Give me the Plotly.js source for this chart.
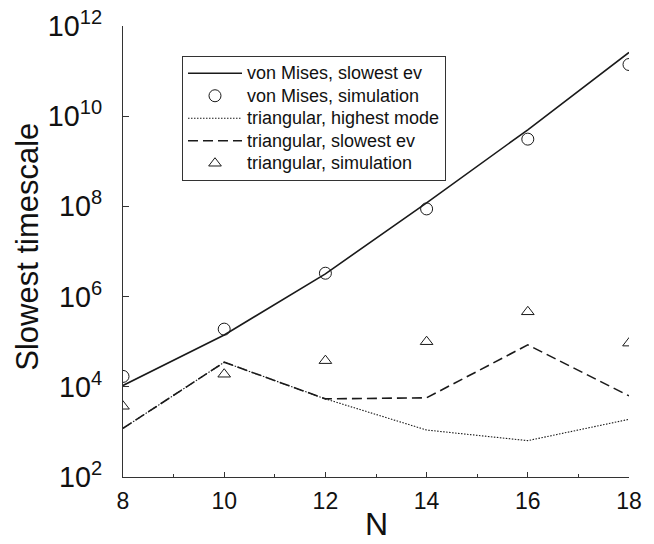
<!DOCTYPE html>
<html>
<head>
<meta charset="utf-8">
<script src="https://cdn.plot.ly/plotly-3.0.1.min.js"></script>
<style>html,body{margin:0;padding:0;background:#fff;}#chart{width:654px;height:544px;}</style>
</head>
<body>
<div id="chart"></div>
<script>
// Data
var N = [8, 10, 12, 14, 16, 18];
var vonMisesSlowestEv = [1.07e4, 1.41e5, 3.2e6, 1.2e8, 5.0e9, 2.6e11];
var vonMisesSimulation = [1.7e4, 1.9e5, 3.3e6, 8.8e7, 3.1e9, 1.4e11];
var triangularHighestMode = [1.2e3, 3.5e4, 5.4e3, 1.1e3, 6.4e2, 1.9e3];
var triangularSlowestEv = [1.2e3, 3.5e4, 5.4e3, 5.7e3, 8.5e4, 6.3e3];
var triangularSimulation = [3.7e3, 1.9e4, 3.8e4, 1.0e5, 4.6e5, 9.3e4];
var xTickVals = [8, 10, 12, 14, 16, 18];
var xTickText = ['8', '10', '12', '14', '16', '18'];
var seriesNames = ['von Mises, slowest ev', 'von Mises, simulation', 'triangular, highest mode', 'triangular, slowest ev', 'triangular, simulation'];
var yTitle = 'Slowest timescale';
var xTitle = 'N';

function big(s) { return '<span style="font-size:18px">' + s + '</span>'; }

var ink = '#1a1a1a';
var traces = [
  {x: N, y: vonMisesSlowestEv, name: big(seriesNames[0]), mode: 'lines', line: {color: ink, width: 1.6}},
  {x: N, y: vonMisesSimulation, name: big(seriesNames[1]), mode: 'markers', marker: {symbol: 'circle-open', size: 12, color: ink, line: {width: 1}}},
  {x: N, y: triangularHighestMode, name: big(seriesNames[2]), mode: 'lines', line: {color: ink, width: 1.1, dash: '1.5px,1.5px'}},
  {x: N, y: triangularSlowestEv, name: big(seriesNames[3]), mode: 'lines', line: {color: ink, width: 1.6, dash: '10px,5px'}},
  {x: N, y: triangularSimulation, name: big(seriesNames[4]), mode: 'markers', marker: {symbol: 'triangle-up-open', size: 11, color: ink, line: {width: 1}}}
];

var layout = {
  width: 654, height: 544,
  margin: {l: 123, r: 25, t: 26, b: 67},
  paper_bgcolor: '#fff', plot_bgcolor: '#fff',
  font: {family: 'Liberation Sans, Arial, sans-serif', color: '#111'},
  showlegend: true,
  legend: {
    x: 0.1166, y: 0.9335, xanchor: 'left', yanchor: 'top',
    bgcolor: '#fff', bordercolor: '#333', borderwidth: 1,
    font: {size: 15, color: '#111'},
    itemwidth: 54
  },
  xaxis: {
    range: [8, 18], showgrid: false, zeroline: false,
    showline: true, linecolor: '#333', linewidth: 1.2,
    ticks: 'inside', ticklen: 5, tickcolor: '#333',
    tickmode: 'array', tickvals: xTickVals, ticktext: xTickText,
    minor: {dtick: 1, ticks: 'inside', ticklen: 3, tickcolor: '#333', showgrid: false},
    tickfont: {size: 23}, ticklabelstandoff: 3
  },
  yaxis: {
    type: 'log', range: [2, 12], showgrid: false, zeroline: false,
    showline: true, linecolor: '#333', linewidth: 1.2,
    ticks: 'inside', ticklen: 6, tickcolor: '#333',
    dtick: 2, exponentformat: 'power',
    tickfont: {size: 23}, ticklabelstandoff: 15
  },
  annotations: [
    {text: yTitle, xref: 'paper', yref: 'paper', x: -0.1877, y: 0.5106,
     xanchor: 'center', yanchor: 'middle', textangle: -90, showarrow: false,
     font: {size: 31, color: '#111'}},
    {text: xTitle, xref: 'paper', yref: 'paper', x: 0.5, y: -0.1042,
     xanchor: 'center', yanchor: 'middle', showarrow: false,
     font: {size: 32, color: '#111'}}
  ]
};

Plotly.newPlot('chart', traces, layout, {displayModeBar: false, staticPlot: true});
</script>
</body>
</html>
